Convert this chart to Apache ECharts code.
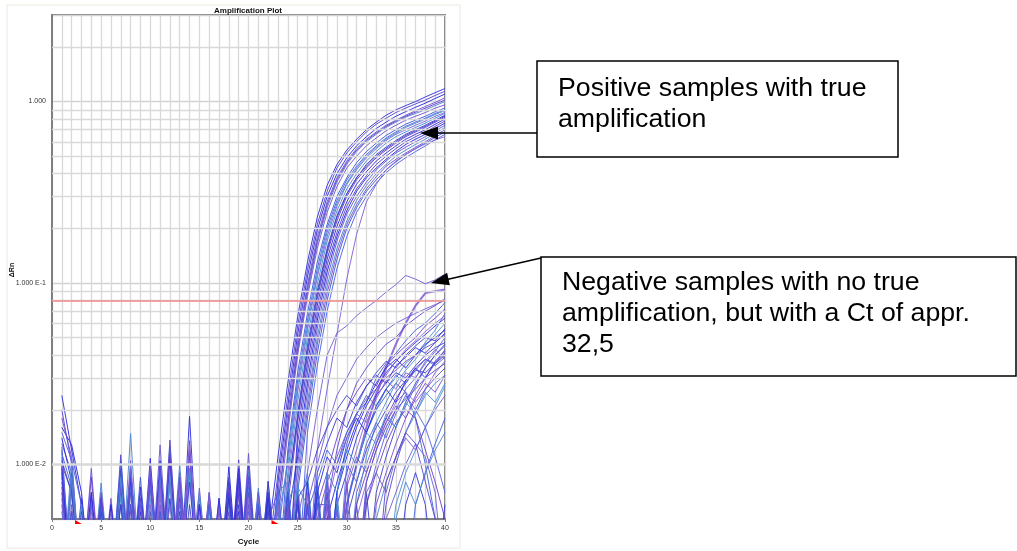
<!DOCTYPE html>
<html><head><meta charset="utf-8">
<script src="https://cdn.jsdelivr.net/npm/echarts@6/dist/echarts.min.js"></script>
<style>html,body{margin:0;padding:0;background:#fff}#c{width:1017px;height:551px}</style>
</head><body><div id="c"></div>
<script>
// value used for readings that lie under the axis floor (below 0.005)
const B = 0.002;
const cycles = [1,2,3,4,5,6,7,8,9,10,11,12,13,14,15,16,17,18,19,20,21,22,23,24,25,26,27,28,29,30,31,32,33,34,35,36,37,38,39,40];
const xTicks = [0,5,10,15,20,25,30,35,40];
const yTickLabels = {'-2':'1.000 E-2','-1':'1.000 E-1','0':'1.000'};
const yMinorLines = [0.006,0.007,0.008,0.009,0.02,0.03,0.04,0.05,0.06,0.07,0.08,0.09,0.2,0.3,0.4,0.5,0.6,0.7,0.8,0.9,2];
const threshold = 0.078;
const baselineMarks = [3, 23];

// positive samples (cycles 1..40)
const P01 = [0.024,0.012,0.006,B,B,B,B,0.008,B,B,B,B,B,0.0184,B,B,B,B,B,B, B,0.004,0.011,0.028,0.065,0.13,0.23,0.345,0.45,0.54,0.62,0.70,0.77,0.84,0.90,0.95,1.00,1.06,1.12,1.18];
const P02 = [0.02,0.01,B,B,B,B,0.0113,B,B,B,B,0.0136,B,B,B,B,B,B,0.0106,B, 0.006,0.003,0.009,0.024,0.058,0.118,0.21,0.32,0.43,0.52,0.60,0.68,0.75,0.81,0.87,0.92,0.97,1.02,1.08,1.14];
const P03 = [0.016,0.0128,0.007,B,B,B,B,B,B,0.0108,B,B,B,B,B,B,B,0.0097,B,B, B,B,0.008,0.021,0.052,0.108,0.195,0.30,0.40,0.49,0.57,0.64,0.71,0.77,0.83,0.88,0.93,0.98,1.04,1.10];
const P04 = [0.013,0.009,B,0.0095,B,B,B,B,B,B,0.0128,B,B,B,0.0074,B,B,B,B,0.0115, B,0.005,0.007,0.019,0.047,0.098,0.18,0.28,0.38,0.47,0.55,0.62,0.68,0.74,0.79,0.84,0.89,0.94,0.99,1.05];
const P05 = [0.011,B,B,B,0.0079,B,B,0.0148,B,B,B,B,0.01,B,B,B,B,B,B,B, 0.0074,B,0.006,0.016,0.042,0.088,0.165,0.26,0.36,0.45,0.53,0.60,0.66,0.72,0.77,0.82,0.86,0.90,0.95,1.00];
const P06 = [0.018,0.011,B,B,B,B,0.009,B,B,B,B,0.011,B,0.012,B,B,B,B,B,0.008, B,B,0.005,0.015,0.04,0.084,0.155,0.245,0.34,0.43,0.50,0.57,0.63,0.69,0.74,0.79,0.83,0.87,0.92,0.96];
const P07 = [B,0.009,B,B,B,0.006,B,B,0.0085,B,B,B,B,B,B,0.007,B,B,0.008,B, B,0.0081,B,0.012,0.032,0.068,0.13,0.21,0.30,0.38,0.46,0.53,0.59,0.65,0.70,0.75,0.79,0.83,0.88,0.92];
const P08 = [0.012,B,B,B,0.0065,B,B,B,B,0.009,B,B,0.008,B,B,B,0.0065,B,B,B, B,B,0.004,0.011,0.029,0.062,0.12,0.20,0.285,0.37,0.44,0.51,0.57,0.63,0.68,0.73,0.77,0.81,0.86,0.90];
const P09 = [B,B,B,B,B,B,B,B,0.007,B,0.0095,B,B,B,0.0065,B,B,0.007,B,B, 0.006,B,B,0.009,0.025,0.055,0.108,0.18,0.265,0.35,0.42,0.49,0.55,0.61,0.66,0.70,0.74,0.78,0.83,0.87];
const P10 = [0.009,B,B,B,B,B,0.007,B,B,B,B,0.009,B,B,B,B,0.0059,B,B,B, B,B,0.007,0.008,0.022,0.05,0.098,0.17,0.25,0.33,0.40,0.47,0.53,0.59,0.64,0.68,0.72,0.76,0.81,0.86];
const P11 = [B,B,B,0.007,B,B,B,0.006,B,B,B,B,B,B,B,B,B,B,B,0.007, B,0.006,B,0.007,0.019,0.045,0.09,0.155,0.235,0.31,0.38,0.45,0.51,0.56,0.61,0.66,0.70,0.74,0.79,0.84];
const P12 = [0.01,0.007,B,B,B,B,B,B,B,B,0.008,B,B,0.009,B,B,B,B,B,B, B,B,B,0.006,0.017,0.04,0.082,0.145,0.22,0.30,0.37,0.43,0.49,0.54,0.59,0.64,0.68,0.72,0.77,0.82];
const P13 = [B,B,B,B,B,0.006,B,B,B,B,B,B,0.007,B,B,B,B,0.007,B,B, 0.0065,B,0.006,B,0.015,0.036,0.075,0.135,0.205,0.28,0.35,0.41,0.47,0.52,0.57,0.62,0.66,0.70,0.75,0.80];
const P14 = [B,0.008,B,B,B,B,B,0.007,B,0.008,B,B,B,B,B,B,B,B,0.0075,B, B,B,B,B,0.013,0.032,0.068,0.125,0.19,0.265,0.33,0.39,0.45,0.50,0.55,0.60,0.64,0.68,0.73,0.78];
const P15 = [0.014,0.008,B,B,0.0065,B,B,B,B,B,B,0.0105,B,B,B,B,B,B,B,0.009, B,0.007,B,0.005,0.011,0.028,0.062,0.115,0.18,0.25,0.32,0.38,0.43,0.48,0.53,0.58,0.62,0.66,0.71,0.76];
const P16 = [B,B,B,B,B,B,0.008,B,B,B,B,B,B,B,B,0.0065,B,B,B,B, B,B,B,B,0.010,0.025,0.056,0.105,0.17,0.24,0.30,0.36,0.42,0.47,0.52,0.56,0.60,0.64,0.69,0.74];
const P17 = [B,B,B,0.006,B,B,B,B,B,B,0.0085,B,B,0.0095,B,B,B,B,B,B, 0.006,B,B,0.006,0.009,0.022,0.05,0.096,0.155,0.22,0.285,0.345,0.40,0.45,0.50,0.54,0.58,0.62,0.67,0.72];
const P18 = [0.008,B,B,B,B,B,B,0.0105,B,B,B,B,B,B,B,B,B,B,0.0068,B, B,B,0.007,B,0.008,0.02,0.046,0.088,0.145,0.21,0.27,0.33,0.385,0.44,0.48,0.52,0.56,0.60,0.65,0.70];
const P19 = [B,B,B,B,B,B,B,B,B,0.0075,B,B,B,B,0.006,B,B,B,B,B, B,B,B,B,0.007,0.018,0.041,0.08,0.135,0.20,0.26,0.32,0.37,0.42,0.465,0.51,0.55,0.59,0.635,0.68];
const P20 = [0.015,0.0105,0.006,B,B,B,B,B,B,B,B,B,0.0085,B,B,B,B,B,B,0.0075, B,0.006,B,B,B,0.015,0.035,0.07,0.12,0.18,0.245,0.30,0.355,0.405,0.45,0.49,0.53,0.57,0.615,0.66];
const P21 = [B,B,B,B,0.006,B,B,B,B,B,B,0.008,B,B,B,B,0.006,B,B,B, B,B,B,B,B,B,0.012,0.026,0.052,0.105,0.185,0.28,0.35,0.42,0.47,0.51,0.55,0.585,0.615,0.64];
const P22 = [B,B,B,B,B,B,0.0095,B,0.0065,B,B,B,B,B,B,B,B,B,B,B, B,B,0.005,0.01,0.027,0.058,0.112,0.19,0.275,0.355,0.43,0.50,0.56,0.62,0.67,0.72,0.76,0.80,0.85,0.89];
const P23 = [0.007,B,B,B,B,B,B,B,B,B,B,B,B,0.0115,B,B,B,0.008,B,B, B,B,B,0.007,0.018,0.042,0.086,0.15,0.23,0.31,0.38,0.44,0.50,0.55,0.60,0.65,0.69,0.73,0.78,0.83];
const P24 = [B,B,B,0.0065,B,B,B,B,B,0.0095,B,B,B,B,B,B,B,B,0.009,B, B,B,0.006,0.017,0.044,0.093,0.17,0.27,0.37,0.46,0.54,0.61,0.67,0.73,0.78,0.83,0.875,0.92,0.97,1.02];

// negative samples (cycles 1..40)
const N01 = [B,B,B,B,B,B,B,B,B,B,B,B,B,B,B,B,B,B,B,B, B,0.006,B,B,0.005,0.009,0.02,0.04,0.053,0.058,0.066,0.073,0.08,0.089,0.098,0.11,0.105,0.099,0.104,0.112];
const N02 = [0.01,B,B,B,B,B,B,B,B,B,0.007,B,B,B,B,B,B,B,B,0.0065, B,B,B,B,B,0.006,B,0.005,B,0.006,0.01,0.016,0.024,0.034,0.046,0.06,0.075,0.088,0.09,0.092];
const N03 = [B,B,B,B,B,B,0.0075,B,B,B,B,B,0.0085,B,B,B,B,B,B,B, B,0.007,B,0.006,B,B,0.006,0.006,0.012,0.02,0.028,0.034,0.04,0.046,0.05,0.058,0.064,0.07,0.075,0.082];
const N04 = [0.0115,0.0075,B,B,B,B,B,0.009,B,B,B,B,B,B,B,B,B,B,B,B, B,B,0.007,B,B,0.008,B,B,0.007,0.013,0.019,0.022,0.03,0.036,0.041,0.048,0.055,0.06,0.068,0.078];
const N05 = [B,B,B,B,0.007,B,B,B,B,0.0085,B,B,B,B,B,B,B,0.0075,B,B, 0.006,B,B,B,0.007,B,0.006,0.009,0.014,0.02,0.025,0.03,0.027,0.035,0.04,0.045,0.05,0.058,0.064,0.072];
const N06 = [B,0.0105,B,B,B,B,B,B,B,B,B,0.0085,B,B,B,0.0065,B,B,B,B, B,B,B,0.008,B,B,B,0.007,B,0.006,0.01,0.015,0.02,0.026,0.03,0.036,0.04,0.047,0.055,0.068];
const N07 = [0.009,B,B,B,B,B,0.0065,B,B,B,B,B,B,0.0095,B,B,B,B,B,B, B,0.006,B,B,B,0.009,B,B,B,B,0.006,0.011,0.017,0.022,0.028,0.033,0.038,0.045,0.052,0.06];
const N08 = [B,B,B,0.007,B,B,B,B,0.0075,B,B,B,B,B,B,B,B,B,0.0095,B, B,B,B,B,0.006,B,B,0.005,0.008,0.012,0.017,0.022,0.028,0.034,0.038,0.034,0.04,0.046,0.05,0.055];
const N09 = [0.0125,B,B,B,B,B,B,B,B,B,0.009,B,B,B,B,B,B,B,B,B, 0.007,B,B,0.007,B,B,0.008,B,B,B,B,0.006,0.01,0.015,0.02,0.026,0.03,0.036,0.042,0.05];
const N10 = [B,B,B,B,B,B,B,0.0085,B,B,B,B,B,0.008,B,B,B,B,B,0.01, B,B,0.006,B,B,B,B,B,0.006,0.009,0.014,0.019,0.024,0.028,0.032,0.03,0.035,0.04,0.044,0.047];
const N11 = [0.0065,B,B,B,B,B,B,B,B,B,B,B,0.0075,B,B,B,B,B,B,B, B,B,B,B,0.007,B,B,0.009,B,B,B,B,0.006,0.009,0.013,0.018,0.024,0.03,0.036,0.043];
const N12 = [B,B,B,B,0.006,B,0.0095,B,B,B,B,B,B,B,B,B,B,0.0065,B,B, B,0.007,B,B,B,B,0.007,B,B,0.005,0.008,0.012,0.016,0.02,0.025,0.029,0.033,0.032,0.036,0.04];
const N13 = [B,0.008,B,B,B,B,B,B,B,0.0095,B,B,B,B,B,B,B,B,B,B, B,B,B,B,B,0.006,0.01,0.016,0.024,0.03,0.038,0.044,0.05,0.055,0.06,0.064,0.068,0.072,0.076,0.08];
const N14 = [B,B,B,B,B,B,B,B,B,B,0.0075,B,0.007,B,B,B,B,B,B,B, B,B,0.006,B,B,B,B,0.008,B,B,0.005,0.008,0.012,0.017,0.022,0.025,0.022,0.026,0.032,0.037];
const N15 = [0.0085,B,B,B,B,B,B,B,0.006,B,B,B,B,B,B,B,B,B,0.007,B, 0.006,B,B,B,0.006,B,B,B,B,0.008,B,B,B,0.006,0.01,0.015,0.02,0.026,0.03,0.034];
const N16 = [B,B,B,B,B,B,B,0.0075,B,B,B,0.0125,B,B,B,B,B,B,B,B, B,B,B,0.006,B,B,0.007,B,B,0.006,0.01,0.015,0.02,0.024,0.028,0.025,0.018,0.01,0.005,B];
const N17 = [B,B,B,0.0085,B,B,B,B,B,B,B,B,B,0.0135,B,B,B,B,B,B, B,0.006,B,B,B,B,B,0.007,B,B,B,0.006,0.009,0.013,0.017,0.02,0.018,0.012,0.008,0.005];
const N18 = [B,0.007,B,B,B,B,B,B,B,B,B,B,B,B,0.007,B,B,B,B,0.009, B,B,B,B,0.008,B,B,B,B,B,B,B,0.005,0.008,0.011,0.015,0.019,0.024,0.028,0.031];
const N19 = [B,B,B,B,B,B,0.0085,B,B,B,B,0.0075,B,B,B,B,B,B,B,B, B,B,0.007,B,B,B,B,B,0.007,B,B,B,B,B,0.006,0.009,0.012,0.016,0.021,0.027];
const N20 = [0.0095,B,B,B,B,B,B,B,B,B,B,B,B,B,B,B,0.0065,B,B,B, B,B,B,B,B,B,B,B,0.007,0.011,0.016,0.021,0.026,0.032,0.037,0.042,0.047,0.052,0.058,0.064];
const N21 = [B,B,B,B,B,B,B,B,B,0.0075,B,B,B,B,B,B,B,B,B,B, 0.007,B,B,B,B,B,0.006,B,B,B,0.007,0.01,0.014,0.018,0.016,0.021,0.027,0.034,0.04,0.045];
const N22 = [B,B,0.0065,B,B,B,B,B,B,B,0.0105,B,B,B,B,B,B,B,0.0085,B, B,B,B,0.007,B,0.008,B,B,0.006,B,B,0.007,B,B,B,0.006,0.009,0.006,B,0.006];
const N23 = [B,B,B,B,B,0.0065,B,B,B,B,B,B,B,B,B,0.007,B,B,B,B, B,B,B,B,B,B,0.005,0.008,0.011,0.015,0.019,0.023,0.026,0.03,0.033,0.037,0.04,0.044,0.047,0.052];
const N24 = [0.0105,0.007,B,B,B,B,B,B,B,B,B,B,B,B,B,B,B,0.0085,B,B, B,0.008,B,B,B,B,B,B,B,B,B,B,0.007,0.011,0.016,0.022,0.028,0.034,0.04,0.046];
const N25 = [B,B,B,B,B,B,B,0.0095,B,B,B,B,0.009,B,B,B,B,B,B,B, B,B,B,B,B,0.007,B,B,B,0.006,B,B,B,0.005,0.007,0.01,0.013,0.011,0.007,B];
const N26 = [B,B,B,B,B,B,B,B,B,B,B,B,B,0.0125,B,B,B,B,B,B, B,B,0.006,B,B,B,B,B,B,0.008,0.012,0.018,0.025,0.031,0.037,0.043,0.048,0.054,0.06,0.066];
const N27 = [0.0075,B,B,B,0.0065,B,B,B,B,B,B,B,B,B,B,B,B,B,B,0.0085, B,B,B,B,0.006,B,B,0.006,B,B,B,0.008,0.012,0.016,0.02,0.023,0.026,0.03,0.033,0.036];
const N28 = [B,B,B,B,B,B,0.0105,B,B,B,B,B,B,B,B,B,B,B,B,B, B,0.006,B,B,B,B,0.008,B,B,B,B,B,B,B,B,B,0.006,0.009,0.013,0.018];
const N29 = [B,B,B,B,B,B,B,B,0.0065,B,B,0.0115,B,B,B,B,B,B,B,B, B,B,B,0.006,B,B,B,B,B,B,0.006,0.009,0.013,0.018,0.023,0.028,0.034,0.038,0.036,0.041];
const N30 = [B,0.0085,B,B,B,B,B,B,B,B,B,B,B,B,B,B,B,B,B,B, B,B,B,B,B,B,B,B,0.006,B,B,B,B,B,0.005,0.008,0.006,0.009,0.012,0.015];
const N31 = [B,B,0.006,B,0.0055,B,B,0.006,B,0.0065,B,B,0.006,B,B,0.0055,B,0.006,B,B, 0.0065,B,0.006,B,0.0075,0.006,B,0.009,0.007,0.012,0.01,0.015,0.013,0.019,0.016,0.022,0.019,0.025,0.022,0.028];
const N32 = [B,0.0055,B,B,B,0.006,B,B,0.0055,B,B,0.0065,B,B,0.006,B,B,B,0.0055,B, B,0.0065,B,0.0055,B,B,0.007,0.011,0.009,0.014,0.018,0.015,0.021,0.026,0.022,0.029,0.034,0.03,0.037,0.042];
const N33 = [0.0055,B,B,0.006,B,B,B,B,0.006,B,0.0055,B,B,B,B,0.006,B,B,B,0.0055, B,B,0.0075,B,B,0.006,B,0.008,B,0.01,0.008,0.013,0.017,0.014,0.019,0.024,0.02,0.016,0.011,0.007];
const N34 = [B,B,B,B,0.0055,B,0.006,B,B,B,B,B,0.0055,B,0.006,B,B,0.0065,B,B, 0.0055,B,B,B,0.0065,B,0.009,0.013,0.018,0.016,0.022,0.027,0.031,0.028,0.035,0.039,0.044,0.041,0.047,0.053];
const N35 = [B,0.006,B,B,B,B,B,0.0055,B,B,0.006,B,B,B,B,B,0.0055,B,B,0.006, B,B,B,0.006,B,B,B,0.006,B,0.0075,0.011,0.009,0.013,0.017,0.021,0.018,0.023,0.028,0.025,0.031];
const N36 = [B,B,0.0055,B,B,B,0.006,B,B,0.0055,B,B,B,0.006,B,B,B,B,0.006,B, B,0.0055,B,B,0.0065,0.008,0.012,0.016,0.02,0.024,0.021,0.027,0.032,0.037,0.034,0.04,0.045,0.05,0.048,0.056];
const N37 = [0.006,B,B,B,B,0.0055,B,B,B,B,B,0.006,B,B,0.0055,B,B,B,B,B, 0.006,B,B,0.0055,B,B,B,B,0.0055,B,B,0.007,0.009,0.007,0.011,0.014,0.012,0.016,0.02,0.024];
const N38 = [B,B,B,0.0055,B,B,B,B,B,0.006,B,B,B,B,B,0.0065,B,B,B,B, 0.0065,B,0.006,B,B,0.007,B,0.006,0.01,0.014,0.019,0.017,0.023,0.029,0.026,0.032,0.03,0.037,0.043,0.038];
const N39 = [B,B,B,B,B,B,B,0.006,B,B,B,B,0.0065,B,B,B,B,0.0055,B,B, B,B,B,B,B,0.006,B,B,B,B,0.006,B,B,0.008,0.011,0.015,0.013,0.008,0.005,B];
const N40 = [B,0.0055,B,B,0.006,B,B,B,B,B,0.0055,B,B,B,B,0.006,B,B,B,B, 0.006,B,B,0.007,B,0.0055,0.008,0.012,0.01,0.015,0.019,0.024,0.021,0.026,0.031,0.028,0.033,0.038,0.035,0.039];

const positive = [P01,P02,P03,P04,P05,P06,P07,P08,P09,P10,P11,P12,P13,P14,P15,P16,P17,P18,P19,P20,P21,P22,P23,P24];
const negative = [N01,N02,N03,N04,N05,N06,N07,N08,N09,N10,N11,N12,N13,N14,N15,N16,N17,N18,N19,N20,N21,N22,N23,N24,N25,N26,N27,N28,N29,N30,N31,N32,N33,N34,N35,N36,N37,N38,N39,N40];
const palette = ['#3535d8','#5a46cf','#2c2ce0','#6f5bd3','#4f86d0','#7a52cc','#3e5fd8','#5563e2','#8663d6','#4a8fd6','#4040c8','#6a3fc8'];

function pairs(arr){ return arr.map((v,i)=>[cycles[i], v]); }

const series = [];
series.push({
  type:'line', data:[], z:1, silent:true,
  markLine:{silent:true, symbol:'none', label:{show:false},
    lineStyle:{color:'#d9d9d9', width:1.3, type:'solid'},
    data: yMinorLines.map(v=>({yAxis:v}))}
});
positive.forEach((arr,i)=>series.push({
  type:'line', data:pairs(arr), showSymbol:false, symbol:'none', clip:true, z:3, silent:true,
  lineStyle:{width:1, color:palette[i%palette.length], opacity:0.95}
}));
negative.forEach((arr,i)=>series.push({
  type:'line', data:pairs(arr), showSymbol:false, symbol:'none', clip:true, z:3, silent:true,
  lineStyle:{width:(i===1?2:1), color:palette[(i*5+3)%palette.length], opacity:0.9}
}));
series.push({
  type:'line', data:[], z:6, silent:true,
  markLine:{silent:true, symbol:'none', label:{show:false},
    lineStyle:{color:'#f08a8a', width:1.5, type:'solid'},
    data:[{yAxis:threshold}]},
  markPoint:{silent:true, symbol:'path://M0,0 L0,4 L7,4 Z', symbolSize:[7,4], symbolOffset:[-3,3],
    itemStyle:{color:'#ff0000'}, label:{show:false},
    data: baselineMarks.map(c=>({coord:[c, 0.005]}))}
});

const FONT = '"Liberation Sans", Arial, sans-serif';
const chart = echarts.init(document.getElementById('c'));
chart.setOption({
  animation:false,
  backgroundColor:'#ffffff',
  title:{text:'Amplification Plot', left:248, top:7, padding:0, textAlign:'center',
    textStyle:{fontFamily:FONT, fontSize:8, fontWeight:'bold', color:'#111'}},
  grid:{left:52, top:15, right:572, bottom:29, show:true, borderColor:'#7f7f7f', borderWidth:2, backgroundColor:'#fff'},
  xAxis:{type:'value', min:0, max:40, interval:5,
    name:'Cycle', nameLocation:'middle', nameGap:19,
    nameTextStyle:{fontFamily:FONT, fontSize:8, fontWeight:'bold', color:'#111'},
    axisLine:{show:true, lineStyle:{color:'#7f7f7f', width:2}},
    axisTick:{show:true, length:3, lineStyle:{color:'#7f7f7f'}},
    axisLabel:{fontSize:7, color:'#333', margin:6, fontFamily:FONT,
      formatter:v=>xTicks.indexOf(v)>=0?String(v):''},
    splitLine:{show:true, lineStyle:{color:'#d9d9d9', width:1.3}},
    minorTick:{show:false, splitNumber:5},
    minorSplitLine:{show:true, lineStyle:{color:'#d9d9d9', width:1.3}}
  },
  yAxis:{type:'log', logBase:10, min:0.005, max:3,
    axisLine:{show:true, lineStyle:{color:'#7f7f7f', width:2}},
    axisTick:{show:false},
    axisLabel:{fontSize:7, color:'#333', margin:6, fontFamily:FONT,
      showMinLabel:false, showMaxLabel:false,
      formatter:v=>{const e=Math.log10(v); const r=Math.round(e); return (Math.abs(e-r)<1e-6 && yTickLabels[r]!==undefined)?yTickLabels[r]:'';}},
    splitLine:{show:true, lineStyle:{color:'#d2d2d2', width:1.3}}
  },
  series: series,
  graphic:[
    {type:'rect', silent:true, z:-10, shape:{x:7,y:5,width:453,height:543}, style:{fill:'none', stroke:'#ebe8de', lineWidth:1}},
    {type:'text', z:50, x:12, y:270, rotation:Math.PI/2, style:{text:'ΔRn', font:'bold 7px "Liberation Sans", Arial, sans-serif', fill:'#111', align:'center', verticalAlign:'middle'}},
    {type:'rect', z:100, shape:{x:537,y:61,width:361,height:96}, style:{fill:'#fff', stroke:'#000', lineWidth:1.5}},
    {type:'text', z:101, x:558, y:73, style:{text:'Positive samples with true\namplification', font:'26.7px "Liberation Sans", Arial, sans-serif', fill:'#000', lineHeight:31}},
    {type:'line', z:100, shape:{x1:537,y1:133,x2:436,y2:133}, style:{stroke:'#000', lineWidth:1.5}},
    {type:'polygon', z:100, shape:{points:[[420,133],[438,126.5],[438,139.5]]}, style:{fill:'#000'}},
    {type:'rect', z:100, shape:{x:541,y:257,width:475,height:119}, style:{fill:'#fff', stroke:'#000', lineWidth:1.5}},
    {type:'text', z:101, x:562, y:267, style:{text:'Negative samples with no true\namplification, but with a Ct of appr.\n32,5', font:'26.7px "Liberation Sans", Arial, sans-serif', fill:'#000', lineHeight:31}},
    {type:'line', z:100, shape:{x1:541,y1:258,x2:447,y2:279.4}, style:{stroke:'#000', lineWidth:1.5}},
    {type:'polygon', z:100, shape:{points:[[431,283],[449.9,285.3],[447.1,272.7]]}, style:{fill:'#000'}}
  ]
});
</script></body></html>
